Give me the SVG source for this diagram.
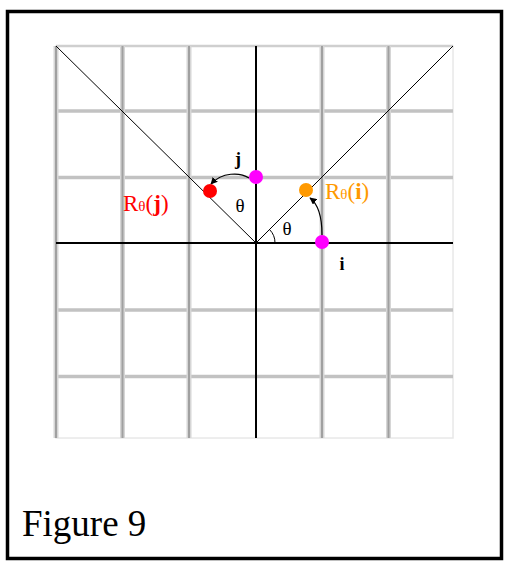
<svg xmlns="http://www.w3.org/2000/svg" width="509" height="570" viewBox="0 0 509 570">
<defs>
<style>
.halo{stroke:#d6d6d6;stroke-width:5;fill:none}
.grid{stroke:#a0a0a0;stroke-width:2;fill:none}
.hgrid{stroke:#c2c2c2;stroke-width:3.5;fill:none}
.edge{stroke:#e8e8e8;stroke-width:1.5;fill:none}
.axis{stroke:#000;stroke-width:2;fill:none}
.diag{stroke:#000;stroke-width:1;fill:none}
.arc{stroke:#000;stroke-width:1.2;fill:none}
.lbl{font-family:"Liberation Serif",serif}
</style>
<marker id="ah" viewBox="0 0 10 10" refX="9" refY="5" markerWidth="7" markerHeight="7" orient="auto" markerUnits="userSpaceOnUse">
<path d="M0,0 L10,5 L0,10 z" fill="#000"/>
</marker>
</defs>
<rect x="0" y="0" width="509" height="570" fill="#fff"/>
<rect id="frame" x="7.5" y="11.5" width="494" height="547" fill="none" stroke="#000" stroke-width="3.5"/>
<g id="grid">
<rect x="56" y="46" width="397" height="392" class="edge"/>
<line x1="56" y1="111" x2="453" y2="111" class="hgrid"/>
<line x1="56" y1="177.5" x2="453" y2="177.5" class="hgrid"/>
<line x1="56" y1="310" x2="453" y2="310" class="hgrid"/>
<line x1="56" y1="376.5" x2="453" y2="376.5" class="hgrid"/>
<line x1="56" y1="46" x2="453" y2="46" class="hgrid" style="stroke:#cfcfcf;stroke-width:2.5"/>
<line x1="56" y1="46" x2="56" y2="438" class="halo"/>
<line x1="122.5" y1="46" x2="122.5" y2="438" class="halo"/>
<line x1="189" y1="46" x2="189" y2="438" class="halo"/>
<line x1="322" y1="46" x2="322" y2="438" class="halo"/>
<line x1="388.5" y1="46" x2="388.5" y2="438" class="halo"/>
<line x1="56" y1="46" x2="56" y2="438" class="grid"/>
<line x1="122.5" y1="46" x2="122.5" y2="438" class="grid"/>
<line x1="189" y1="46" x2="189" y2="438" class="grid"/>
<line x1="322" y1="46" x2="322" y2="438" class="grid"/>
<line x1="388.5" y1="46" x2="388.5" y2="438" class="grid"/>
<line x1="56" y1="243" x2="453" y2="243" class="axis"/>
<line x1="256" y1="46" x2="256" y2="438" class="axis"/>
</g>
<g id="connectors">
<line x1="56" y1="46" x2="256" y2="243" class="diag"/>
<line x1="256" y1="243" x2="453" y2="46" class="diag"/>
<path d="M275,243 A19,19 0 0 0 269.5,229.5" class="diag"/>
<path d="M322,235 C322,215 318,204 310,198" class="arc" marker-end="url(#ah)"/>
<path d="M249,178 C240,172 222,172 211,184" class="arc" marker-end="url(#ah)"/>
</g>
<g id="point-i"><circle cx="322" cy="242" r="7" fill="#ff00ff"/></g>
<g id="point-j"><circle cx="256" cy="177" r="7" fill="#ff00ff"/></g>
<g id="point-Ri"><circle cx="306" cy="190" r="7" fill="#ff9900"/></g>
<g id="point-Rj"><circle cx="210" cy="191" r="7" fill="#ff0000"/></g>
<g id="labels" class="lbl">
<text x="238" y="165" font-size="18" font-weight="bold" text-anchor="middle">j</text>
<text x="342" y="270" font-size="18" font-weight="bold" text-anchor="middle">i</text>
<text x="240" y="212" font-size="19" text-anchor="middle">θ</text>
<text x="287" y="235" font-size="19" text-anchor="middle">θ</text>
<text x="325" y="199" font-size="23" fill="#ff9900">R<tspan font-size="15">θ</tspan>(<tspan font-weight="bold">i</tspan>)</text>
<text x="123" y="211" font-size="23" fill="#ff0000">R<tspan font-size="15">θ</tspan>(<tspan font-weight="bold">j</tspan>)</text>
<text x="22" y="536" font-size="37">Figure 9</text>
</g>
</svg>
